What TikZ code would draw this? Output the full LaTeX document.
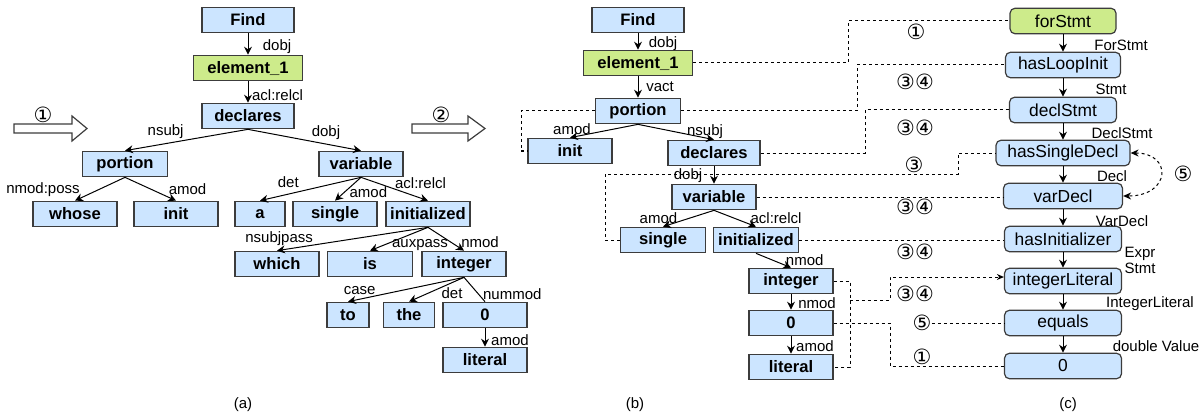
\documentclass[tikz,border=0pt]{standalone}
\usepackage{fontspec}
\setmainfont{Liberation Sans}
\newfontfamily\circfont{DejaVu Sans}
\usetikzlibrary{arrows.meta,calc}

\definecolor{depblue}{RGB}{204,229,255}
\definecolor{rootgreen}{RGB}{205,235,139}
\definecolor{edgegray}{RGB}{60,60,60}

\tikzset{
  word/.style={draw=edgegray,fill=depblue,line width=0.6pt,minimum width=42pt,minimum height=12.75pt,inner sep=0pt,font=\fontsize{8.3}{10}\selectfont\bfseries},
  astnode/.style={draw=edgegray,fill=depblue,rounded corners=2.5pt,line width=0.6pt,minimum width=58.5pt,minimum height=12.75pt,inner sep=0pt,font=\fontsize{8.7}{10}\selectfont},
  root/.style={fill=rootgreen},
  dep/.style={-{Stealth[length=4pt,width=4pt]},line width=0.5pt},
  lbl/.style={font=\fontsize{7.5}{9}\selectfont,inner sep=0pt},
  link/.style={dash pattern=on 1.5pt off 1.5pt,line width=0.5pt},
  circnum/.style={font=\circfont\fontsize{10.5}{12}\selectfont,inner sep=0pt},
  fatarrow/.style={draw=edgegray,fill=white,line width=0.6pt},
  caption/.style={font=\fontsize{7.5}{9}\selectfont}
}

\begin{document}
\begin{tikzpicture}[x=0.5pt,y=-0.5pt]
\useasboundingbox (0,0) rectangle (1199,417);

% (a) dependency tree of the query
\node[word,minimum width=46pt] (aFind) at (248,20) {Find};
\node[word,root,minimum width=54.5pt] (aElem) at (248,68) {element\_1};
\node[word,minimum width=46pt] (aDecl) at (248,116) {declares};
\node[word,minimum width=42.5pt] (aPort) at (125,164) {portion};
\node[word] (aVar) at (361,164) {variable};
\node[word] (aWhose) at (75,214) {whose};
\node[word] (aInit) at (176,214) {init};
\node[word,minimum width=25pt] (aA) at (260,214) {a};
\node[word] (aSingle) at (335,214) {single};
\node[word] (aInitd) at (428,214) {initialized};
\node[word] (aWhich) at (277,264) {which};
\node[word,minimum width=42.5pt] (aIs) at (370,264) {is};
\node[word] (aInteger) at (464,264) {integer};
\node[word,minimum width=21pt] (aTo) at (348,315) {to};
\node[word,minimum width=25.5pt] (aThe) at (409,315) {the};
\node[word] (aZero) at (485,315) {0};
\node[word] (aLit) at (485,360) {literal};

\draw[dep] (aFind) -- node[lbl,pos=0.6,xshift=14.5pt] {dobj} (aElem);
\draw[dep] (aElem) -- node[lbl,pos=0.64,xshift=14.75pt] {acl:relcl} (aDecl);
\draw[dep] (aDecl.south) -- node[lbl,pos=0.67,yshift=6pt] {nsubj} (aPort.north);
\draw[dep] (aDecl.south) -- node[lbl,pos=0.69,yshift=5.8pt] {dobj} (aVar.north);
\draw[dep] (aPort.south) -- node[lbl,pos=0.52,xshift=-28pt] {nmod:poss} (aWhose.north);
\draw[dep] (aPort.south) -- node[lbl,pos=0.52,xshift=18pt] {amod} (aInit.north);
\draw[dep] (aVar.south) -- node[lbl,pos=0.72,yshift=6pt] {det} (aA.north);
\draw[dep] (aVar.south) -- node[lbl,pos=0.64,xshift=12pt] {amod} (aSingle.north);
\draw[dep] (aVar.south) -- node[lbl,pos=0.5,xshift=13pt,yshift=3pt] {acl:relcl} (aInitd.north);
\draw[dep] (aInitd.south) -- node[lbl,pos=0.9,xshift=-6.5pt,yshift=4.75pt] {nsubjpass} (aWhich.north);
\draw[dep] (aInitd.south) -- node[lbl,pos=0.7,xshift=16.3pt,yshift=-0.75pt] {auxpass} (aIs.north);
\draw[dep] (aInitd.south) -- node[lbl,pos=0.64,xshift=14.5pt] {nmod} (aInteger.north);
\draw[dep] (aInteger.south) -- node[lbl,pos=0.9,yshift=4.25pt] {case} (aTo.north);
\draw[dep] (aInteger.south) -- node[lbl,pos=0.5,xshift=7.75pt,yshift=-1.75pt] {det} (aThe.north);
\draw[line width=0.5pt] (aInteger.south) -- node[lbl,pos=0.68,xshift=17pt] {nummod} (aZero.north);
\draw[dep] (aZero) -- node[lbl,pos=0.63,xshift=12.5pt] {amod} (aLit);

% transformation arrows
\draw[fatarrow] (14,124) -- (72,124) -- (72,116) -- (87,128.5) -- (72,141) -- (72,133) -- (14,133) -- cycle;
\node[circnum] (m1a) at (43,115) {①};
\draw[fatarrow] (412,124) -- (468,124) -- (468,116) -- (485,128.5) -- (468,141) -- (468,133) -- (412,133) -- cycle;
\node[circnum] (m2) at (441,115) {②};

% (b) reordered tree
\node[word,minimum width=46pt] (bFind) at (638,20) {Find};
\node[word,root,minimum width=54.5pt] (bElem) at (638,63) {element\_1};
\node[word,minimum width=42.5pt] (bPort) at (638,111) {portion};
\node[word] (bInit) at (570,151) {init};
\node[word,minimum width=46pt] (bDecl) at (714,153) {declares};
\node[word] (bVar) at (714,197) {variable};
\node[word,minimum width=42.5pt] (bSingle) at (663,240) {single};
\node[word,minimum width=42.5pt] (bInitd) at (756,240) {initialized};
\node[word] (bInteger) at (791,281) {integer};
\node[word] (bZero) at (791,323) {0};
\node[word] (bLit) at (791,367) {literal};

\draw[dep] (bFind) -- node[lbl,pos=0.6,xshift=12.5pt] {dobj} (bElem);
\draw[dep] (bElem) -- node[lbl,pos=0.5,xshift=11pt] {vact} (bPort);
\draw[dep] (bPort.south) -- node[lbl,pos=0.5,xshift=-16pt,yshift=0.75pt] {amod} (bInit.north);
\draw[dep] (bPort.south) -- node[lbl,pos=0.5,xshift=14.5pt] {nsubj} (bDecl.north);
\draw[dep] (bDecl) -- node[lbl,pos=0.55,xshift=-13pt] {dobj} (bVar);
\draw[dep] (bVar.south) -- node[lbl,pos=0.5,xshift=-15pt] {amod} (bSingle.north);
\draw[dep] (bVar.south) -- node[lbl,pos=0.5,xshift=20.5pt] {acl:relcl} (bInitd.north);
\draw[dep] (bInitd.south) -- node[lbl,pos=0.45,xshift=16.5pt] {nmod} (bInteger.north);
\draw[dep] (bInteger) -- node[lbl,pos=0.6,xshift=13pt] {nmod} (bZero);
\draw[dep] (bZero) -- node[lbl,pos=0.55,xshift=12pt] {amod} (bLit);

% (c) AST matcher chain
\node[astnode,root,minimum width=53pt] (cFor) at (1063,21) {forStmt};
\node[astnode,minimum width=57.5pt] (cLoop) at (1063,65) {hasLoopInit};
\node[astnode,minimum width=53.5pt] (cDeclStmt) at (1063,110) {declStmt};
\node[astnode,minimum width=67pt] (cSingle) at (1063,153) {hasSingleDecl};
\node[astnode,minimum width=59.5pt] (cVarDecl) at (1063,196) {varDecl};
\node[astnode] (cInitzr) at (1063,239) {hasInitializer};
\node[astnode] (cIntLit) at (1063,281) {integerLiteral};
\node[astnode] (cEquals) at (1063,323) {equals};
\node[astnode] (cZero) at (1063,366) {0};

\draw[dep] (cFor) -- node[lbl,pos=0.63,xshift=29pt] {ForStmt} (cLoop);
\draw[dep] (cLoop) -- node[lbl,pos=0.6,xshift=24pt] {Stmt} (cDeclStmt);
\draw[dep] (cDeclStmt) -- node[lbl,pos=0.58,xshift=29.5pt] {DeclStmt} (cSingle);
\draw[dep] (cSingle) -- node[lbl,pos=0.6,xshift=24.5pt] {Decl} (cVarDecl);
\draw[dep] (cVarDecl) -- node[lbl,pos=0.72,xshift=29.5pt] {VarDecl} (cInitzr);
\draw[dep] (cInitzr) -- node[lbl,pos=0.5,xshift=38.5pt,align=left] {Expr\\[-1pt]Stmt} (cIntLit);
\draw[dep] (cIntLit) -- node[lbl,pos=0.6,xshift=43.5pt] {IntegerLiteral} (cEquals);
\draw[dep] (cEquals) -- node[lbl,pos=0.6,xshift=46.5pt] {double Value} (cZero);
\draw[link,{Stealth[length=4pt,width=3.5pt]}-{Stealth[length=4pt,width=3.5pt]}] (cSingle.east) .. controls +(42,0) and +(48,0) .. (cVarDecl.east);
\node[circnum] (m5b) at (1183,174) {⑤};

% mapping between (b) and (c)
\draw[link] (bPort.west) -- (bPort.west -| 521,0) |- (bInit.west);
\draw[link] (bElem.east) -- (bElem.east -| 848,0) |- (cFor.west);
\draw[link] (bPort.east) -- (bPort.east -| 857,0) |- (cLoop.west);
\draw[link] (bDecl.east) -- (bDecl.east -| 865,0) |- (cDeclStmt.west);
\draw[link] (bSingle.west) -- (bSingle.west -| 605,0) |- (958,174) |- (cSingle.west);
\draw[link] (bVar.east) -- (bVar.east -| cVarDecl.west);
\draw[link] (bInitd.east) -- (bInitd.east -| cInitzr.west);
\draw[link] (bInteger.east) -- (bInteger.east -| 850,0) |- (bLit.east);
\coordinate (tap) at (850,300);
\draw[link,-{Stealth[length=3.5pt,width=3pt]}] (tap) -| (890,277) -- (cIntLit.west |- 0,277);
\draw[link] (bZero.east) -- (bZero.east -| 890,0) |- (cZero.west);

\node[circnum] (m1b) at (916,32) {①};
\node[circnum] (m34a) at (915,82) {③④};
\node[circnum] (m34b) at (915,128) {③④};
\node[circnum] (m3) at (914,165) {③};
\node[circnum] (m34c) at (915,207) {③④};
\node[circnum] (m34d) at (915,252) {③④};
\node[circnum] (m34e) at (915,294) {③④};
\node[circnum] (m5a) at (922,323) {⑤};
\draw[link] (m5a) -- (cEquals.west);
\node[circnum] (m1c) at (922,357) {①};

\node[caption] (capA) at (243,405) {(a)};
\node[caption] (capB) at (635,405) {(b)};
\node[caption] (capC) at (1068,405) {(c)};
\end{tikzpicture}
\end{document}
